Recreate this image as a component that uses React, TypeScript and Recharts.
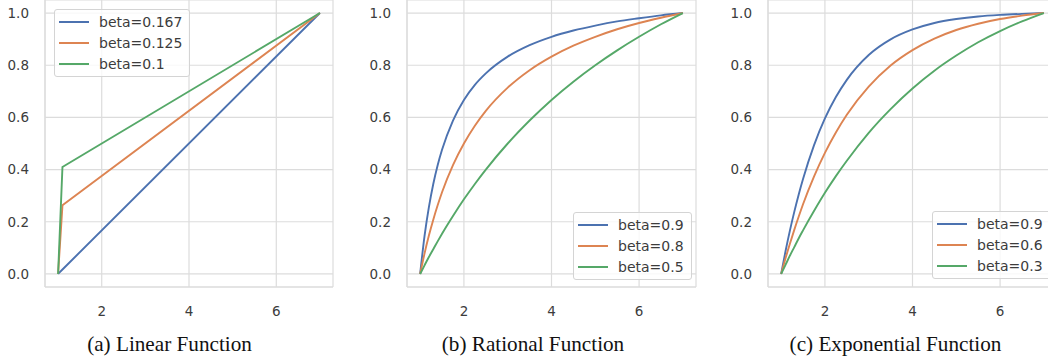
import { LineChart, Line, XAxis, YAxis, CartesianGrid } from "recharts"

// seaborn "deep" palette
const BLUE = "#4c72b0"
const ORANGE = "#dd8452"
const GREEN = "#55a868"
const GRID = "#dcdcdc"
const TEXT = "#3c3c3c"

const X_TICKS = [2, 4, 6]
const Y_TICKS = [0, 0.2, 0.4, 0.6, 0.8, 1.0]

// (a) linear
const LINEAR_X = [1, 1.1, 7]
const LIN_B167 = [0, 0.017, 1]
const LIN_B125 = [0, 0.263, 1]
const LIN_B10 = [0, 0.41, 1]
const LINEAR_NAMES = ["beta=0.167", "beta=0.125", "beta=0.1"]

// (b) rational and (c) exponential share the x samples
const CURVE_X = [1, 1.1, 1.2, 1.3, 1.4, 1.5, 1.75, 2, 2.25, 2.5, 3, 3.5, 4, 4.5, 5, 5.5, 6, 6.5, 7]

const RAT_B09 = [0, 0.145, 0.256, 0.345, 0.417, 0.476, 0.588, 0.667, 0.725, 0.769, 0.833, 0.877, 0.909, 0.933, 0.952, 0.968, 0.98, 0.991, 1]
const RAT_B08 = [0, 0.078, 0.147, 0.208, 0.263, 0.313, 0.417, 0.5, 0.568, 0.625, 0.714, 0.781, 0.833, 0.875, 0.909, 0.938, 0.962, 0.982, 1]
const RAT_B05 = [0, 0.033, 0.065, 0.095, 0.125, 0.154, 0.222, 0.286, 0.345, 0.4, 0.5, 0.588, 0.667, 0.737, 0.8, 0.857, 0.909, 0.957, 1]
const RATIONAL_NAMES = ["beta=0.9", "beta=0.8", "beta=0.5"]

const EXP_B09 = [0, 0.087, 0.166, 0.238, 0.304, 0.364, 0.493, 0.596, 0.678, 0.744, 0.839, 0.899, 0.937, 0.962, 0.977, 0.987, 0.993, 0.997, 1]
const EXP_B06 = [0, 0.06, 0.116, 0.169, 0.219, 0.267, 0.373, 0.464, 0.542, 0.61, 0.718, 0.799, 0.858, 0.902, 0.935, 0.959, 0.977, 0.99, 1]
const EXP_B03 = [0, 0.035, 0.07, 0.103, 0.136, 0.167, 0.241, 0.311, 0.375, 0.434, 0.541, 0.632, 0.711, 0.779, 0.837, 0.888, 0.931, 0.968, 1]
const EXPONENTIAL_NAMES = ["beta=0.9", "beta=0.6", "beta=0.3"]

const COLORS = [BLUE, ORANGE, GREEN]

function buildRows(xs: number[], a: number[], b: number[], c: number[]) {
  return xs.map((x, i) => ({ x, s0: a[i], s1: b[i], s2: c[i] }))
}

const tickStyle = { fill: TEXT, fontSize: 13.5, fontFamily: "DejaVu Sans" }

function Panel({
  left,
  plotWidth,
  rows,
  names,
  lineType,
  legendLeft,
  legendTop,
  topFrame,
}: {
  left: number
  plotWidth: number
  rows: { x: number; s0: number; s1: number; s2: number }[]
  names: string[]
  lineType: "linear" | "monotone"
  legendLeft: number
  legendTop: number
  topFrame: boolean
}) {
  const width = 345
  return (
    <div style={{ position: "absolute", left, top: 0, width, height: 330 }}>
      <LineChart
        width={width}
        height={330}
        data={rows}
        margin={{ top: 0, right: width - 45 - plotWidth, bottom: 0, left: 0 }}
      >
        <CartesianGrid stroke={GRID} strokeWidth={1.2} />
        <XAxis
          dataKey="x"
          type="number"
          domain={[0.7, 7.3]}
          ticks={X_TICKS}
          allowDataOverflow
          height={43}
          axisLine={{ stroke: GRID, strokeWidth: 1.2 }}
          tickLine={false}
          tickMargin={13}
          tick={tickStyle}
        />
        {topFrame && (
          <XAxis
            xAxisId="top"
            orientation="top"
            type="number"
            domain={[0.7, 7.3]}
            height={0}
            tick={false}
            tickLine={false}
            axisLine={{ stroke: GRID, strokeWidth: 1.2 }}
          />
        )}
        <YAxis
          type="number"
          domain={[-0.05, 1.05]}
          ticks={Y_TICKS}
          allowDataOverflow
          width={45}
          tickFormatter={(v: number) => v.toFixed(1)}
          axisLine={{ stroke: GRID, strokeWidth: 1.2 }}
          tickLine={false}
          tickMargin={10}
          tick={tickStyle}
        />
        <YAxis
          yAxisId="right"
          orientation="right"
          type="number"
          domain={[-0.05, 1.05]}
          width={0}
          tick={false}
          tickLine={false}
          axisLine={{ stroke: GRID, strokeWidth: 1.2 }}
        />
        {["s0", "s1", "s2"].map((key, i) => (
          <Line
            key={key}
            dataKey={key}
            type={lineType}
            stroke={COLORS[i]}
            strokeWidth={1.9}
            dot={false}
            isAnimationActive={false}
          />
        ))}
      </LineChart>

      {/* Legend */}
      <div
        style={{
          position: "absolute",
          left: legendLeft,
          top: legendTop,
          padding: "2px 7px 2px 4px",
          border: "1px solid #d4d4d4",
          borderRadius: 3,
          background: "rgba(255,255,255,0.8)",
          zIndex: 2,
        }}
      >
        {names.map((name, i) => (
          <div
            key={name}
            style={{ display: "flex", alignItems: "center", height: 20.7 }}
          >
            <span
              style={{
                width: 30,
                height: 2,
                background: COLORS[i],
                marginRight: 10,
              }}
            />
            <span
              style={{
                fontFamily: "DejaVu Sans",
                fontSize: 14,
                color: TEXT,
                whiteSpace: "nowrap",
              }}
            >
              {name}
            </span>
          </div>
        ))}
      </div>
    </div>
  )
}

function Caption({ center, text }: { center: number; text: string }) {
  return (
    <div
      style={{
        position: "absolute",
        left: center - 150,
        width: 300,
        top: 333,
        lineHeight: "23px",
        textAlign: "center",
        fontFamily: "Liberation Serif",
        fontSize: 21.2,
        color: "#111",
      }}
    >
      {text}
    </div>
  )
}

export default function App() {
  return (
    <div
      style={{
        position: "absolute",
        left: 0,
        top: 0,
        width: 1048,
        height: 362,
        overflow: "hidden",
        background: "#fff",
      }}
    >
      <Panel
        left={0}
        plotWidth={288}
        rows={buildRows(LINEAR_X, LIN_B167, LIN_B125, LIN_B10)}
        names={LINEAR_NAMES}
        lineType="linear"
        legendLeft={54}
        legendTop={9}
        topFrame
      />
      <Panel
        left={362}
        plotWidth={289}
        rows={buildRows(CURVE_X, RAT_B09, RAT_B08, RAT_B05)}
        names={RATIONAL_NAMES}
        lineType="monotone"
        legendLeft={211}
        legendTop={212}
        topFrame={false}
      />
      <Panel
        left={723}
        plotWidth={289}
        rows={buildRows(CURVE_X, EXP_B09, EXP_B06, EXP_B03)}
        names={EXPONENTIAL_NAMES}
        lineType="monotone"
        legendLeft={209}
        legendTop={211}
        topFrame={false}
      />
      <Caption center={169.5} text="(a) Linear Function" />
      <Caption center={533} text="(b) Rational Function" />
      <Caption center={895.5} text="(c) Exponential Function" />
    </div>
  )
}
